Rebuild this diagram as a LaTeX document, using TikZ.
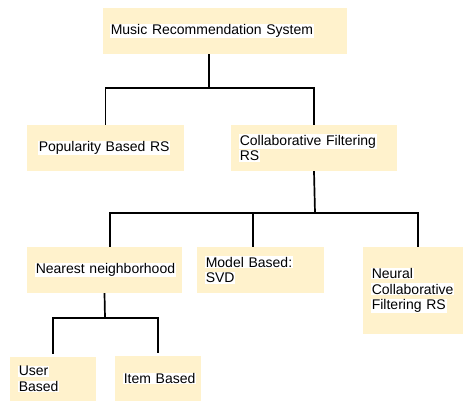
\documentclass[tikz,border=0pt]{standalone}
\usepackage{fontspec}
\setmainfont{Liberation Sans}
\usepackage{xcolor}
\definecolor{boxfill}{HTML}{FFF2CC}
\newcommand{\hlline}[1]{{\setlength{\fboxsep}{0.8pt}\colorbox{white}{#1}}}

\begin{document}
\begin{tikzpicture}[x=1pt,y=-1pt,
    box/.style={fill=boxfill, inner ysep=0pt, inner xsep=8pt, align=left,
                font=\fontsize{14}{15.6}\selectfont},
    link/.style={line width=1.7pt}]

    \useasboundingbox (0,0) rectangle (463,401);

    %===========================
    % Boxes
    %===========================
    \draw node (msr) at (225,31) [box, inner xsep=7pt, text width=230pt, minimum height=46pt] {\hlline{Music Recommendation System}};

    % Second row
    \draw node (pop) at (105.5,148) [box, inner xsep=11pt, text width=135pt, minimum height=46pt] {\hlline{Popularity Based RS}};
    \draw node (cf) at (314,148) [box, text width=150pt, minimum height=46pt] {\hlline{Collaborative Filtering}\\\hlline{RS}};

    % Third row
    \draw node (nn) at (104.5,270) [box, text width=139pt, minimum height=46pt] {\hlline{Nearest neighborhood}};
    \draw node (mb) at (260.5,270) [box, text width=111pt, minimum height=46pt] {\hlline{Model Based:}\\\hlline{SVD}};
    \draw node (nr) at (413,290.5) [box, text width=84pt, minimum height=87pt] {\hlline{Neural}\\\hlline{Collaborative}\\\hlline{Filtering RS}};

    % Fourth row
    \draw node (ub) at (53,379) [box, text width=70pt, minimum height=44pt] {\hlline{User}\\\hlline{Based}};
    \draw node (ib) at (158,378.5) [box, text width=70pt, minimum height=45pt] {\hlline{Item Based}};

    %===========================
    % Links
    %===========================
    \coordinate (j1) at (209,88);
    \draw[link] (j1 |- msr.south) -- (j1);
    \draw[link] (pop.north) |- (j1) -| (cf.north);

    \coordinate (j2) at (315,213);
    \draw[link] (cf.south) -- (j2);
    \draw[link] ([xshift=5.5pt]nn.north) |- (j2) -| ([xshift=5pt]nr.north);
    \draw[link] ([xshift=-7.5pt]mb.north) -- ([xshift=-7.5pt]mb.north |- j2);

    \coordinate (j3) at (105,318);
    \draw[link] (nn.south) -- (j3);
    \draw[link, shorten >=3pt] (j3) -| (ub.north);
    \draw[link, shorten >=3pt] (j3) -| (ib.north);

\end{tikzpicture}
\end{document}
